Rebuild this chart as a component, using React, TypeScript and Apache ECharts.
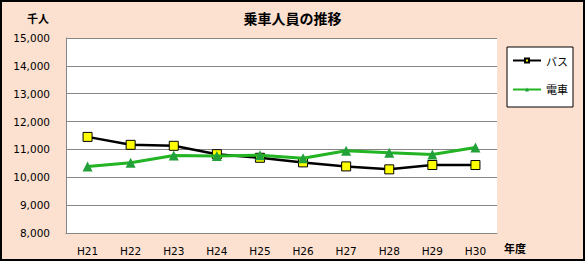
import React, { useEffect, useRef } from "react";
import * as echarts from "echarts";

const categories = ["H21", "H22", "H23", "H24", "H25", "H26", "H27", "H28", "H29", "H30"];
const busValues = [11450, 11165, 11130, 10830, 10700, 10535, 10390, 10285, 10440, 10440];
const trainValues = [10390, 10520, 10785, 10760, 10795, 10680, 10950, 10880, 10820, 11070];
const seriesNames = ["バス", "電車"];
const titleText = "乗車人員の推移";
const yUnit = "千人";
const xUnit = "年度";
const yMin = 8000;
const yMax = 15000;
const yInterval = 1000;

export default function App() {
  const ref = useRef<HTMLDivElement>(null);
  useEffect(() => {
    if (!ref.current) return;
    const chart = echarts.init(ref.current, undefined, { renderer: "svg" });
    const font = "'DejaVu Sans', Verdana, sans-serif";
    const cjk = "'Noto Sans CJK JP', sans-serif";
    chart.setOption({
      animation: false,
      backgroundColor: "#FCE0D0",
      textStyle: { fontFamily: font },
      title: {
        text: titleText,
        left: "center",
        top: 6,
        textStyle: { fontSize: 14, fontWeight: "bold", color: "#000", fontFamily: cjk },
      },
      grid: {
        left: 66,
        right: 88,
        top: 38,
        bottom: 28,
        show: true,
        backgroundColor: "#ffffff",
        borderWidth: 0,
      },
      legend: {
        orient: "vertical",
        left: 512,
        top: 55,
        itemGap: 18,
        itemWidth: 28,
        itemHeight: 5,
        padding: 0,
        textStyle: { fontSize: 11, color: "#000", fontFamily: cjk },
        data: seriesNames,
      },
      xAxis: {
        type: "category",
        data: categories,
        boundaryGap: true,
        axisLine: { show: true, lineStyle: { color: "#868686", width: 1 } },
        axisTick: { show: false },
        axisLabel: { color: "#000", fontSize: 10.5, margin: 12, fontFamily: font },
      },
      yAxis: {
        type: "value",
        min: yMin,
        max: yMax,
        interval: yInterval,
        axisLine: { show: true, lineStyle: { color: "#868686", width: 1 } },
        axisTick: { show: false },
        splitLine: { show: true, lineStyle: { color: "#868686", width: 1 } },
        axisLabel: {
          color: "#000",
          fontSize: 10.5,
          margin: 16,
          fontFamily: font,
          formatter: (v: number) => v.toLocaleString("en-US"),
        },
      },
      graphic: [
        {
          type: "rect",
          shape: { x: 507, y: 47, width: 66, height: 60 },
          style: { fill: "#ffffff", stroke: "#000", lineWidth: 1 },
          z: -1,
        },
        {
          type: "text",
          x: 38,
          y: 18,
          style: { text: yUnit, fill: "#000", align: "center", verticalAlign: "middle", font: "bold 11px 'Noto Sans CJK JP', sans-serif" },
        },
        {
          type: "text",
          x: 515,
          y: 248,
          style: { text: xUnit, fill: "#000", align: "center", verticalAlign: "middle", font: "bold 11px 'Noto Sans CJK JP', sans-serif" },
        },
        {
          type: "rect",
          shape: { x: 1, y: 1, width: 583, height: 259 },
          style: { fill: "none", stroke: "#000", lineWidth: 2 },
          z: 100,
        },
      ],
      series: [
        {
          name: seriesNames[0],
          type: "line",
          data: busValues,
          symbol: "rect",
          symbolSize: 9,
          lineStyle: { color: "#000", width: 2.5 },
          itemStyle: { color: "#FFFF00", borderColor: "#000", borderWidth: 1 },
          z: 3,
        },
        {
          name: seriesNames[1],
          type: "line",
          data: trainValues,
          symbol: "triangle",
          symbolSize: 10,
          lineStyle: { color: "#22B422", width: 3 },
          itemStyle: { color: "#22A03A", borderWidth: 0 },
          z: 4,
        },
      ],
    });
    return () => chart.dispose();
  }, []);
  return <div ref={ref} style={{ position: "fixed", left: 0, top: 0, width: 585, height: 261 }} />;
}
